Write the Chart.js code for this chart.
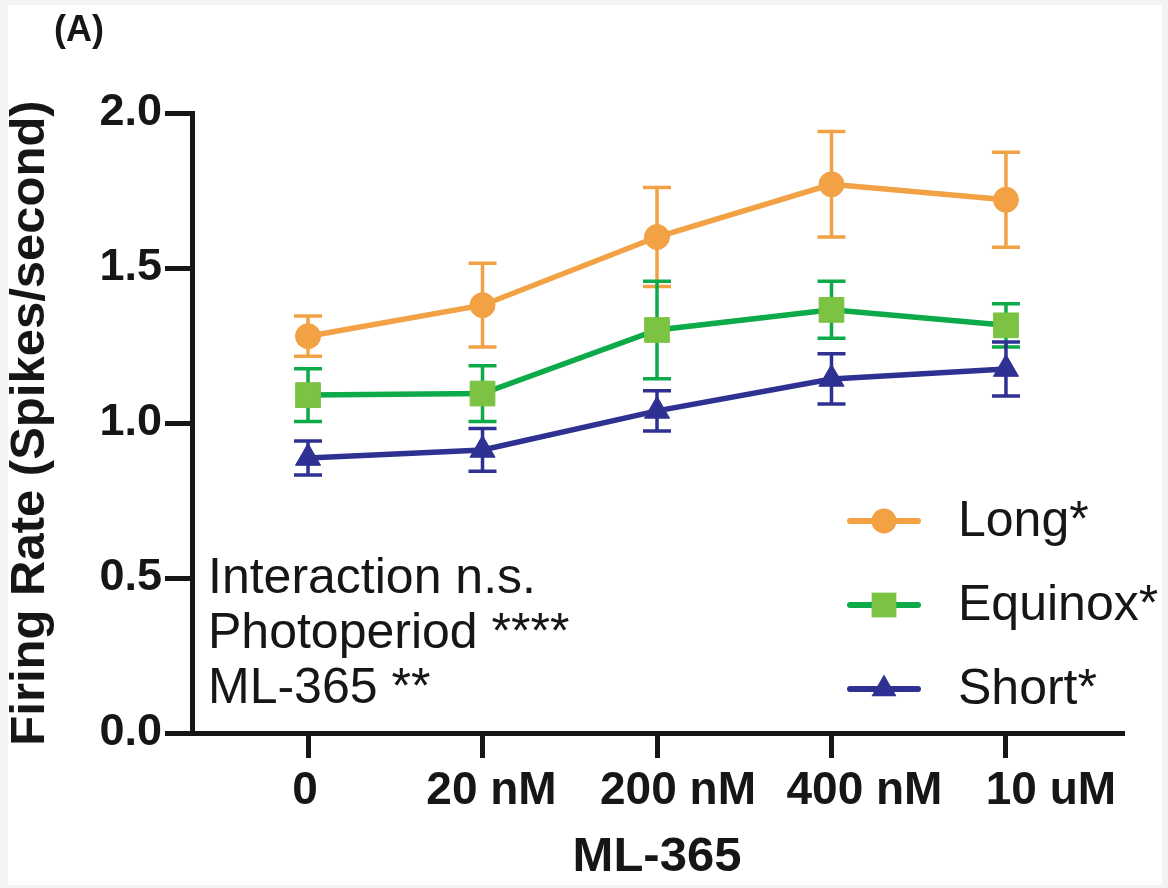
<!DOCTYPE html>
<html>
<head>
<meta charset="utf-8">
<script src="https://cdn.jsdelivr.net/npm/chart.js@4.4.0/dist/chart.umd.min.js"></script>
<style>
  html, body { margin: 0; padding: 0; background: #fff; }
  #wrap { width: 1168px; height: 888px; position: relative; }
</style>
</head>
<body>
<div id="wrap"><canvas id="chart" width="1168" height="888"></canvas></div>
<script>
// ML-365 doses (x categories)
const doseLabels = ['0', '20 nM', '200 nM', '400 nM', '10 uM'];

// mean firing rate and SEM per photoperiod
const longMean = [1.28, 1.38, 1.60, 1.77, 1.72];
const longSem = [0.065, 0.135, 0.16, 0.17, 0.153];
const equinoxMean = [1.09, 1.095, 1.30, 1.365, 1.315];
const equinoxSem = [0.085, 0.09, 0.157, 0.092, 0.07];
const shortMean = [0.887, 0.913, 1.039, 1.142, 1.174];
const shortSem = [0.055, 0.069, 0.065, 0.081, 0.087];

const yTicks = [0, 0.5, 1.0, 1.5, 2.0];
const statsLines = ['Interaction n.s.', 'Photoperiod ****', 'ML-365 **'];

const FONT = '"Liberation Sans", Arial, Helvetica, sans-serif';
const INK = '#161616';

function toPoints(arr) {
    return arr.map((v, i) => ({ x: i, y: v }));
}

// light frame around the figure like the scanned original
const frame = {
    id: 'frame',
    beforeDraw(chart) {
        const ctx = chart.ctx;
        ctx.save();
        ctx.fillStyle = '#f3f3f3';
        ctx.fillRect(0, 0, chart.width, chart.height);
        ctx.fillStyle = '#ffffff';
        ctx.fillRect(8, 5, chart.width - 14, chart.height - 8);
        ctx.restore();
    }
};

// SEM error bars, drawn behind lines and markers
const errorBars = {
    id: 'errorBars',
    beforeDatasetsDraw(chart) {
        const ctx = chart.ctx;
        const yScale = chart.scales.y;
        chart.data.datasets.forEach((ds, i) => {
            const meta = chart.getDatasetMeta(i);
            ctx.save();
            ctx.strokeStyle = ds.borderColor;
            ctx.lineWidth = 3.5;
            meta.data.forEach((pt, j) => {
                const v = ds.data[j].y;
                const e = ds.sem[j];
                const top = yScale.getPixelForValue(v + e);
                const bot = yScale.getPixelForValue(v - e);
                ctx.beginPath();
                ctx.moveTo(pt.x, top);
                ctx.lineTo(pt.x, bot);
                ctx.moveTo(pt.x - 14, top);
                ctx.lineTo(pt.x + 14, top);
                ctx.moveTo(pt.x - 14, bot);
                ctx.lineTo(pt.x + 14, bot);
                ctx.stroke();
            });
            ctx.restore();
        });
    }
};

function drawMarker(ctx, style, x, y, r) {
    ctx.beginPath();
    if (style === 'circle') {
        ctx.arc(x, y, r, 0, Math.PI * 2);
    } else if (style === 'rect') {
        const s = r * Math.SQRT1_2;
        ctx.rect(x - s, y - s, 2 * s, 2 * s);
    } else {
        ctx.moveTo(x, y - r);
        ctx.lineTo(x + r * Math.sin(Math.PI * 2 / 3), y + r / 2);
        ctx.lineTo(x - r * Math.sin(Math.PI * 2 / 3), y + r / 2);
        ctx.closePath();
    }
    ctx.fill();
}

// legend, statistics text and panel letter
const notes = {
    id: 'notes',
    afterDraw(chart) {
        const ctx = chart.ctx;
        const area = chart.chartArea;
        ctx.save();
        ctx.fillStyle = INK;
        ctx.textBaseline = 'middle';
        ctx.textAlign = 'left';
        ctx.font = '50px ' + FONT;
        statsLines.forEach((t, i) => ctx.fillText(t, area.left + 16, 579 + i * 55));

        chart.data.datasets.forEach((ds, i) => {
            const cy = 521 + i * 84;
            ctx.strokeStyle = ds.borderColor;
            ctx.lineWidth = 6;
            ctx.lineCap = 'round';
            ctx.beginPath();
            ctx.moveTo(850, cy);
            ctx.lineTo(918, cy);
            ctx.stroke();
            ctx.fillStyle = ds.pointBackgroundColor;
            drawMarker(ctx, ds.pointStyle, 884, cy, ds.pointRadius);
            ctx.fillStyle = INK;
            ctx.font = '50px ' + FONT;
            ctx.fillText(ds.label, 958, cy + 1);
        });

        ctx.font = 'bold 36px ' + FONT;
        ctx.fillText('(A)', 54, 31);
        ctx.restore();
    }
};

const tickFont = { family: FONT, size: 46, weight: 'bold' };

new Chart(document.getElementById('chart'), {
    type: 'line',
    data: {
        datasets: [
            {
                label: 'Long*',
                data: toPoints(longMean),
                sem: longSem,
                borderColor: '#F2A144',
                pointBackgroundColor: '#F2A144',
                pointBorderColor: '#F2A144',
                pointStyle: 'circle',
                pointRadius: 12.5
            },
            {
                label: 'Equinox*',
                data: toPoints(equinoxMean),
                sem: equinoxSem,
                borderColor: '#0CAA48',
                pointBackgroundColor: '#7CC243',
                pointBorderColor: '#7CC243',
                pointStyle: 'rect',
                pointRadius: 17.5
            },
            {
                label: 'Short*',
                data: toPoints(shortMean),
                sem: shortSem,
                borderColor: '#2E3192',
                pointBackgroundColor: '#2E3192',
                pointBorderColor: '#2E3192',
                pointStyle: 'triangle',
                pointRadius: 14.5
            }
        ]
    },
    options: {
        responsive: false,
        animation: false,
        devicePixelRatio: 1,
        clip: false,
        layout: { padding: { top: 113, right: 46, left: 0, bottom: 0 } },
        elements: {
            line: { borderWidth: 5.5, tension: 0, fill: false },
            point: { borderWidth: 1, hoverRadius: 12 }
        },
        plugins: {
            legend: { display: false },
            tooltip: { enabled: false }
        },
        scales: {
            // axis line and tick marks
            x: {
                type: 'linear',
                position: 'bottom',
                min: -0.665,
                max: 4.665,
                afterBuildTicks: s => { s.ticks = doseLabels.map((_, i) => ({ value: i })); },
                afterFit: s => { s.height = 27; },
                ticks: { display: false },
                grid: { drawOnChartArea: false, drawTicks: true, tickLength: 25, color: INK, lineWidth: 5 },
                border: { display: true, color: INK, width: 5 }
            },
            // dose labels, spaced a little wider than the tick marks as in the original
            xLabels: {
                type: 'linear',
                position: 'bottom',
                min: -0.606,
                max: 4.381,
                afterBuildTicks: s => { s.ticks = doseLabels.map((_, i) => ({ value: i })); },
                afterFit: s => { s.height = 128; },
                ticks: {
                    callback: v => doseLabels[Math.round(v)],
                    font: tickFont,
                    color: INK,
                    padding: 4,
                    maxRotation: 0,
                    autoSkip: false
                },
                grid: { display: false, drawTicks: false },
                border: { display: false },
                title: {
                    display: true,
                    text: 'ML-365',
                    font: { family: FONT, size: 49, weight: 'bold' },
                    color: INK,
                    padding: { top: 0, bottom: 1 }
                }
            },
            y: {
                min: 0,
                max: 2,
                afterBuildTicks: s => { s.ticks = yTicks.map(v => ({ value: v })); },
                afterFit: s => { s.width = 192; },
                ticks: {
                    callback: v => v.toFixed(1),
                    font: { family: FONT, size: 45, weight: 'bold' },
                    color: INK,
                    padding: 3
                },
                grid: { drawOnChartArea: false, drawTicks: true, tickLength: 27, color: INK, lineWidth: 5 },
                border: { display: true, color: INK, width: 5 },
                title: {
                    display: true,
                    text: 'Firing Rate (Spikes/second)',
                    font: { family: FONT, size: 49, weight: 'bold' },
                    color: INK,
                    padding: { top: 1, bottom: 0 }
                }
            }
        }
    },
    plugins: [frame, errorBars, notes]
});
</script>
</body>
</html>
